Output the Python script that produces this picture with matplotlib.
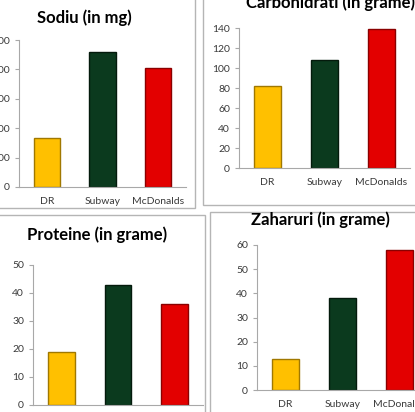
import matplotlib.pyplot as plt
from matplotlib.patches import Rectangle

W, H = 415, 412

categories = ['DR', 'Subway', 'McDonalds']
sodiu = [830, 2300, 2020]
carbohidrati = [82, 108, 139]
proteine = [19, 43, 36]
zaharuri = [13, 38, 58]

bar_colors = ['#FFC000', '#0B3A1E', '#E30000']
edge_colors = ['#A07800', '#041A0C', '#8A0000']

plt.rcParams['font.family'] = ['Lato', 'DejaVu Sans']

fig = plt.figure(figsize=(W / 100, H / 100), dpi=100)
fig.patch.set_facecolor('white')


def px_rect(x0, y0, x1, y1):
    # pixel box (top-left origin) -> figure fraction
    return [x0 / W, 1 - y1 / H, (x1 - x0) / W, (y1 - y0) / H]


# panel frames, kept under the axes
for x0, y0, x1, y1 in [(-5, -5, 195, 208), (203, -5, 420, 205),
                       (-5, 215, 205, 420), (210, 212, 420, 420)]:
    fig.patches.append(Rectangle((x0 / W, 1 - y1 / H), (x1 - x0) / W, (y1 - y0) / H,
                                 transform=fig.transFigure, facecolor='white',
                                 edgecolor='#b5b5b5', linewidth=1.0, zorder=-5))


def draw(box, values, ymax, step, title, title_xy):
    ax = fig.add_axes(px_rect(*box))
    ax.set_zorder(2)
    ax.bar(range(len(categories)), values, width=0.47, color=bar_colors,
           edgecolor=edge_colors, linewidth=1.0)
    ax.set_xlim(-0.5, 2.5)
    ax.set_ylim(0, ymax)
    ax.set_yticks(range(0, ymax + 1, step))
    ax.set_xticks(range(len(categories)))
    ax.set_xticklabels(categories)
    ax.set_facecolor('none')
    for s in ['top', 'right']:
        ax.spines[s].set_visible(False)
    for s in ['left', 'bottom']:
        ax.spines[s].set_color('#a8a8a8')
        ax.spines[s].set_linewidth(0.8)
    ax.tick_params(axis='both', labelsize=7.5, colors='#a8a8a8', labelcolor='#3a3a3a',
                   length=3, width=0.8)
    ax.tick_params(axis='x', length=0, pad=7)
    fig.text(title_xy[0] / W, 1 - title_xy[1] / H, title, ha='center', va='center',
             fontsize=12, fontweight='bold', color='black', zorder=3)
    return ax


draw((19, 40, 186, 187), sodiu, 2500, 500, 'Sodiu (in mg)', (84, 18))
draw((239, 28, 410, 168), carbohidrati, 140, 20, 'Carbohidrati (in grame)', (330, 3))
draw((33, 265, 203, 405), proteine, 50, 10, 'Proteine (in grame)', (97, 235))
draw((257, 245, 428, 390), zaharuri, 60, 10, 'Zaharuri (in grame)', (320, 220))

fig.savefig('out.png', dpi=100)
